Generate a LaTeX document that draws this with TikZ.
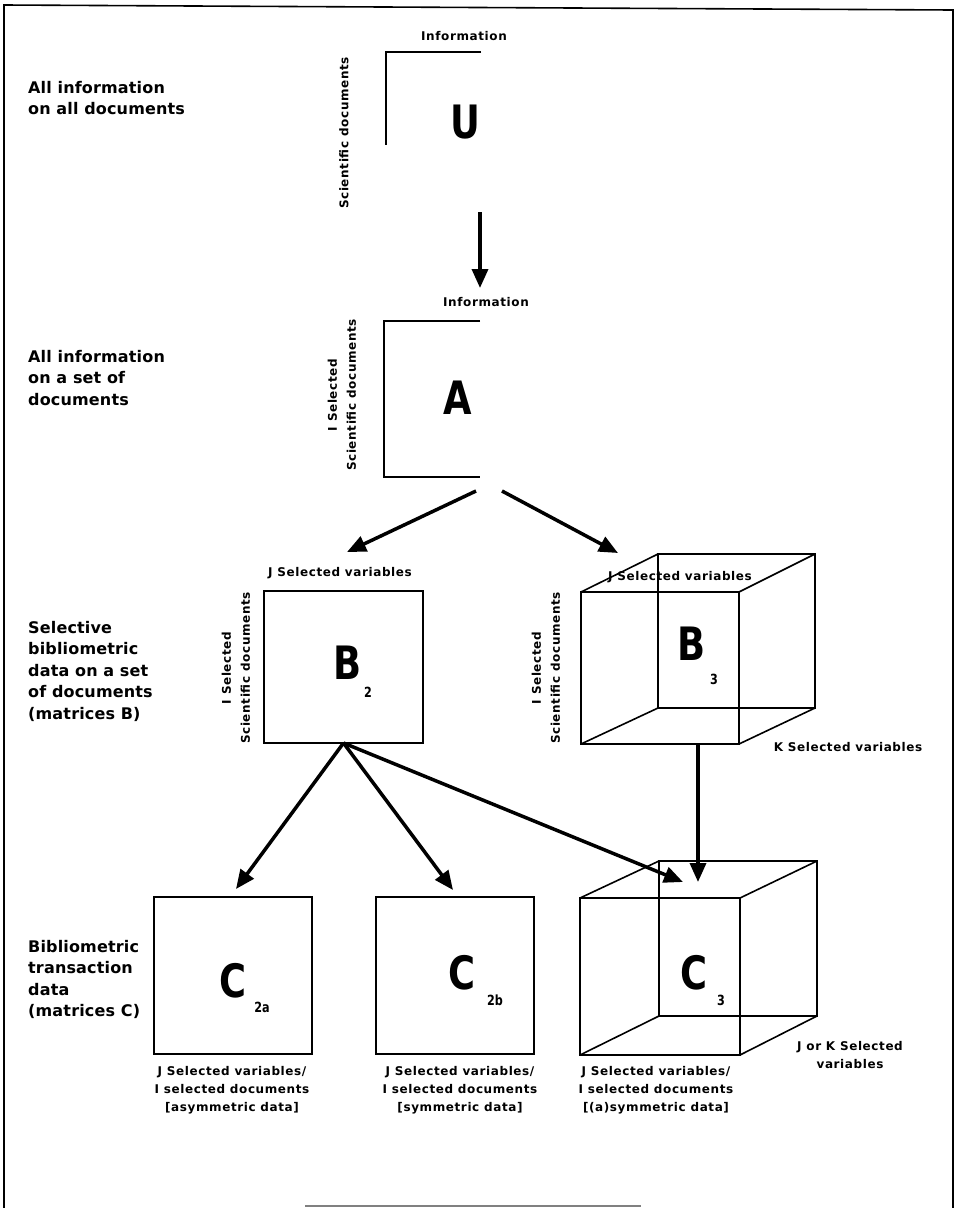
\documentclass[tikz,border=0pt]{standalone}
\usepackage{fontspec}
\setmainfont{DejaVu Sans}
\newfontfamily\labf{DejaVu Sans}[LetterSpace=5]
\newfontfamily\sidef{DejaVu Sans}[LetterSpace=1]
\newfontfamily\bigf{DejaVu Sans}[FakeStretch=0.8]
\usetikzlibrary{arrows.meta}
\tikzset{
  small/.style={font=\labf\bfseries\fontsize{12}{18}\selectfont, inner sep=0pt, align=center},
  rotlab/.style={font=\labf\bfseries\fontsize{12}{19}\selectfont, inner sep=0pt, align=center, rotate=90},
  side/.style={font=\sidef\bfseries\fontsize{16}{21.5}\selectfont, inner sep=0pt, align=left, anchor=north west},
  bigl/.style={font=\bigf\bfseries\fontsize{46}{46}\selectfont, inner sep=0pt},
  subl/.style={font=\bigf\bfseries\fontsize{14}{14}\selectfont, inner sep=0pt},
  mat/.style={draw, line width=1.8pt, inner sep=0pt, outer sep=0pt, minimum width=#1},
  edge3/.style={line width=1.6pt},
  frame/.style={line width=1.6pt},
  arr/.style={-{Triangle[length=19pt,width=16pt]}, line width=3.5pt},
  bracket/.style={line width=1.8pt}
}
\begin{document}
\begin{tikzpicture}[x=1pt,y=-1pt]
\useasboundingbox (0,0) rectangle (958,1208);
% frame
\draw[frame] (4,1208) -- (4,5) -- (953,10) -- (953,1208);
\draw[line width=1.5pt, gray] (305,1206) -- (641,1206);

% side labels
\node[side] (l1) at (28,81) {All information\\on all documents};
\node[side] (l2) at (28,350) {All information\\on a set of\\documents};
\node[side] (l3) at (28,621) {Selective\\bibliometric\\data on a set\\of documents\\(matrices B)};
\node[side] (l4) at (28,940) {Bibliometric\\transaction\\data\\(matrices C)};

% U
\draw[bracket] (481,52) -- (386,52) -- (386,145);
\node[small] (Uinfo) at (464,36) {Information};
\node[rotlab] (Udoc) at (344,133) {Scientific documents};
\node[bigl] (U) at (465,122) {U};

% A
\node[small] (Ainfo) at (486,302) {Information};
\draw[bracket] (480,321) -- (384,321) -- (384,477) -- (480,477);
\node[rotlab] (Adoc) at (342,395) {I Selected\\Scientific documents};
\node[bigl] (A) at (458,398) {A};

% B2
\node[mat=159pt, minimum height=152pt] (B2) at (343.5,667) {};
\node[small] (B2j) at (340,573) {J Selected variables};
\node[rotlab] (B2i) at (236,668) {I Selected\\Scientific documents};
\node[bigl] (B2l) at (348,663) {B};
\node[subl] (B2s) at (368,692) {2};

% B3 cube
\node[mat=157pt, minimum height=154pt, edge3] (B3b) at (736.5,631) {};
\node[mat=158pt, minimum height=152pt] (B3f) at (660,668) {};
\foreach \a in {north west,north east,south west,south east}
  \draw[edge3] (B3f.\a) -- (B3b.\a);
\node[small] (B3j) at (680,577) {J Selected variables};
\node[rotlab] (B3i) at (546,668) {I Selected\\Scientific documents};
\node[small] (B3k) at (848,747) {K Selected variables};
\node[bigl] (B3l) at (692,644) {B};
\node[subl] (B3s) at (714,679) {3};

% C2a
\node[mat=158pt, minimum height=157pt] (C2a) at (233,975.5) {};
\node[bigl] (C2al) at (233,981) {C};
\node[subl] (C2as) at (262,1007) {2a};
\node[small, anchor=north] (C2at) at (232,1066) {J Selected variables/\\I selected documents\\{[}asymmetric data{]}};

% C2b
\node[mat=158pt, minimum height=157pt] (C2b) at (455,975.5) {};
\node[bigl] (C2bl) at (462,973) {C};
\node[subl] (C2bs) at (495,1000) {2b};
\node[small, anchor=north] (C2bt) at (460,1066) {J Selected variables/\\I selected documents\\{[}symmetric data{]}};

% C3 cube
\node[mat=158pt, minimum height=155pt, edge3] (C3b) at (738,938.5) {};
\node[mat=160pt, minimum height=157pt] (C3f) at (660,976.5) {};
\foreach \a in {north west,north east,south west,south east}
  \draw[edge3] (C3f.\a) -- (C3b.\a);
\node[bigl] (C3l) at (694,973) {C};
\node[subl] (C3s) at (721,1000) {3};
\node[small, anchor=north] (C3t) at (656,1066) {J Selected variables/\\I selected documents\\{[}(a)symmetric data{]}};
\node[small, anchor=north] (C3k) at (850,1041) {J or K Selected\\variables};

% connector coordinates
\coordinate (Uout) at (480,212);
\coordinate (Ain) at (480,288);
\coordinate (AoutL) at (476,491);
\coordinate (AoutR) at (502,491);
\coordinate (B2in) at (347,552);
\coordinate (B3in) at (618,553);
\coordinate (B3out) at (698,744);
\coordinate (C2ain) at (236,889);
\coordinate (C2bin) at (453,890);
\coordinate (C3inL) at (683,882);
\coordinate (C3inT) at (698,882);

% arrows
\draw[arr] (Uout) -- (Ain);
\draw[arr] (AoutL) -- (B2in);
\draw[arr] (AoutR) -- (B3in);
\draw[arr] (B2.south) -- (C2ain);
\draw[arr] (B2.south) -- (C2bin);
\draw[arr] (B2.south) -- (C3inL);
\draw[arr] (B3out) -- (C3inT);
\end{tikzpicture}
\end{document}
